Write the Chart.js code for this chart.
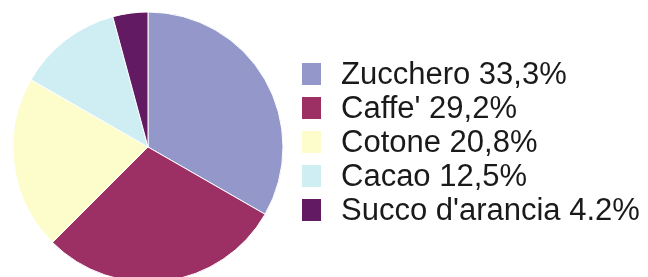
<!DOCTYPE html>
<html>
<head>
<meta charset="utf-8">
<script src="https://cdn.jsdelivr.net/npm/chart.js@4/dist/chart.umd.min.js"></script>
<style>
  html, body { margin: 0; padding: 0; background: #ffffff; }
  #wrap { position: relative; width: 648px; height: 277px; overflow: hidden; }
  #chart { position: absolute; left: 0; top: 0; }
  #legend {
    position: absolute; left: 302px; top: 57px;
    font-family: "Liberation Sans", Arial, sans-serif; font-size: 31px; color: #1a1a1a;
  }
  .row { display: flex; align-items: center; height: 34.1px; line-height: 34px; white-space: nowrap; }
  .box { width: 19px; height: 22px; margin-right: 20px; flex: none; }
</style>
</head>
<body>
<div id="wrap">
  <canvas id="chart" width="648" height="277"></canvas>
  <div id="legend"></div>
</div>
<script>
const categories = ["Zucchero", "Caffe'", "Cotone", "Cacao", "Succo d'arancia"];
const values = [33.3, 29.2, 20.8, 12.5, 4.2];
const valueLabels = ["33,3%", "29,2%", "20,8%", "12,5%", "4.2%"];
const colors = ["#9497c9", "#9c2f63", "#fdfccb", "#cfeef3", "#621a62"];

const chart = new Chart(document.getElementById('chart'), {
  type: 'pie',
  data: {
    labels: categories,
    datasets: [{
      data: values,
      backgroundColor: colors,
      borderColor: '#ffffff',
      borderWidth: 1,
      radius: 135
    }]
  },
  options: {
    responsive: false,
    animation: false,
    rotation: 0,
    layout: { padding: { left: 13, right: 365, top: 17, bottom: 0 } },
    plugins: {
      legend: { display: false },
      tooltip: { enabled: false },
      title: { display: false }
    }
  }
});

// HTML legend built from the chart's own legend items
const items = chart.options.plugins.legend.labels.generateLabels(chart);
const legendEl = document.getElementById('legend');
items.forEach((it, i) => {
  const row = document.createElement('div');
  row.className = 'row';
  const box = document.createElement('span');
  box.className = 'box';
  box.style.background = it.fillStyle;
  const txt = document.createElement('span');
  txt.textContent = it.text + ' ' + valueLabels[i];
  row.appendChild(box);
  row.appendChild(txt);
  legendEl.appendChild(row);
});
</script>
</body>
</html>
